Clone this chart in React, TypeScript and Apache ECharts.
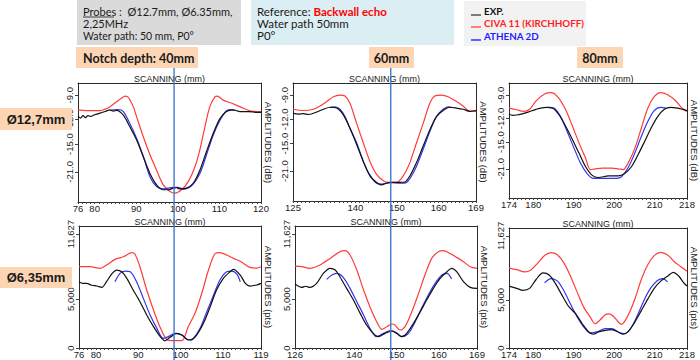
import React, { useEffect, useRef } from 'react';
import * as echarts from 'echarts';

// ---------- tick labels ----------
const X_TICKS_40_127 = [76, 80, 90, 100, 110, 120];
const X_TICKS_60_127 = [125, 140, 150, 160, 169];
const X_TICKS_80_127 = [174, 180, 190, 200, 210, 218];
const X_TICKS_40_635 = [76, 80, 90, 100, 110, 119];
const X_TICKS_60_635 = [126, 140, 150, 160, 169];
const X_TICKS_80_635 = [174, 180, 190, 200, 210, 218];

const DB_TICK_VALUES = [-9, -12, -15, -18.4];
const DB_TICK_LABELS = ['-9.0', '-12.0', '-15.0', '-21.0'];
const PTS_TICK_VALUES = [0, 5000, 11627];
const PTS_TICK_LABELS = ['0', '5,000', '11,627'];

const NOTCH_CENTERS = [99.1, 148.5];

// ---------- Ø12,7mm, notch 40mm (dB) ----------
const EXP_40_127 = [[76, -11.6], [76.6, -11.8], [77.2, -11.5], [77.8, -11.75], [78.4, -11.5], [79, -11.6], [80, -11.4], [81.3, -11.2], [82.5, -11.0], [83.7, -10.8], [84.5, -10.95], [85.3, -10.85], [86.9, -11.45], [88.5, -12.9], [90.1, -14.5], [91.7, -16.55], [93.3, -18.6], [94.9, -20.0], [96.5, -20.6], [97.7, -20.6], [98.9, -20.4], [99.7, -20.35], [100.5, -20.5], [102.1, -20.4], [103.7, -19.8], [105.3, -18.2], [106.9, -15.9], [108.5, -13.7], [110.1, -11.9], [111.7, -11.0], [113.3, -10.8], [115, -11.0], [117, -11.0], [119, -11.1], [120, -11.1]];
const CIVA_40_127 = [[76, -10.8], [78, -10.9], [80, -10.9], [81.3, -10.9], [82.5, -10.7], [83.7, -10.4], [85.3, -9.8], [86.5, -9.35], [87.3, -9.1], [88.0, -9.2], [88.5, -9.6], [89.3, -10.4], [90.1, -11.65], [91.7, -14.1], [93.3, -16.3], [94.9, -18.2], [96.5, -20.0], [98.1, -20.8], [99.3, -21.0], [100.9, -20.6], [102.5, -19.6], [104.1, -17.8], [105.3, -15.7], [106.5, -12.9], [107.7, -10.4], [108.9, -9.2], [109.5, -9.1], [110.9, -9.6], [112.5, -9.9], [114.9, -10.4], [117.3, -10.9], [120, -11.0]];
const ATHENA_40_127 = [[83.7, -10.9], [84.5, -10.8], [85.7, -10.75], [86.9, -11.0], [88.5, -12.5], [90.1, -14.3], [91.7, -16.5], [93.3, -19.0], [94.9, -20.2], [96.5, -20.5], [98.9, -20.3], [100, -20.3], [101.3, -20.5], [103.3, -20.1], [105.3, -18.6], [106.9, -16.3], [108.5, -13.9], [110.1, -12.1], [111.7, -10.9], [112.9, -10.75], [113.5, -10.9]];

// ---------- Ø12,7mm, notch 60mm (dB) ----------
const EXP_60_127 = [[125.1, -11.25], [126.3, -11.35], [127.5, -11.3], [128.7, -11.4], [129.9, -11.25], [132.3, -10.75], [133.9, -10.5], [135.5, -10.6], [137.1, -11.45], [138.7, -13.1], [140.3, -15.1], [141.9, -17.2], [143.5, -19.0], [145.1, -19.8], [146.3, -20.1], [147.5, -19.9], [149.1, -19.8], [150.7, -19.8], [151.9, -19.75], [153.1, -19.0], [154.7, -17.35], [156.3, -15.3], [157.9, -13.3], [159.5, -11.65], [161.1, -10.9], [162.7, -10.5], [164.3, -10.6], [165.9, -10.75], [167.5, -11.0], [169, -10.9]];
const CIVA_60_127 = [[125, -10.75], [127.5, -10.9], [129.9, -10.75], [131.5, -10.35], [133.1, -9.8], [134.7, -9.2], [136.3, -9.0], [137.5, -9.1], [138.7, -10.0], [140.3, -12.5], [141.9, -14.9], [143.5, -17.2], [145.1, -18.8], [146.7, -19.6], [147.9, -19.8], [149.9, -19.8], [151.5, -19.0], [153.1, -17.35], [154.7, -14.9], [156.3, -12.5], [157.9, -10.0], [159.1, -9.1], [160.7, -9.0], [162.3, -9.2], [164.3, -9.8], [165.9, -10.35], [167.5, -11.0], [169, -11.0]];
const ATHENA_60_127 = [[133.9, -10.5], [135.1, -10.45], [136.3, -10.75], [137.5, -11.65], [138.7, -13.1], [140.3, -14.9], [141.9, -17.2], [143.5, -18.9], [145.1, -19.9], [146.3, -20.0], [148.3, -19.8], [150.7, -19.9], [152.3, -19.8], [153.5, -19.0], [154.7, -17.8], [156.3, -15.7], [157.9, -13.5], [159.5, -11.65], [161.1, -10.75], [162.3, -10.45], [163.1, -10.5]];

// ---------- Ø12,7mm, notch 80mm (dB) ----------
const EXP_80_127 = [[174.0, -11.5], [175.0, -11.6], [175.9, -11.56], [177.0, -11.45], [178.3, -11.27], [180.7, -10.84], [183.2, -10.6], [184.8, -10.7], [186.4, -11.56], [188.0, -13.0], [189.7, -14.7], [191.3, -16.4], [192.9, -18.1], [194.5, -19.2], [196.1, -19.5], [198.6, -19.3], [201.0, -19.3], [202.6, -19.0], [204.3, -18.1], [205.9, -16.6], [207.5, -14.95], [209.1, -13.25], [210.7, -11.8], [212.4, -10.84], [214.0, -10.6], [215.6, -10.7], [218, -11.0]];
const CIVA_80_127 = [[174.0, -10.7], [175.9, -10.9], [177.5, -11.1], [179.1, -10.84], [180.7, -9.76], [182.8, -8.9], [184.4, -8.73], [186.0, -9.24], [188.0, -10.9], [189.7, -13.0], [191.3, -15.1], [192.9, -17.0], [194.1, -18.5], [195.3, -18.4], [197.0, -18.3], [199.4, -18.3], [201.0, -18.4], [202.2, -18.5], [203.4, -17.7], [205.1, -15.8], [206.7, -13.25], [208.3, -10.7], [209.9, -9.24], [211.5, -8.73], [213.2, -9.0], [215.2, -9.76], [216.8, -10.7], [218, -11.1]];
const ATHENA_80_127 = [[183.6, -10.6], [185.2, -10.7], [186.8, -11.8], [188.4, -13.7], [190.1, -15.8], [191.7, -17.7], [193.3, -19.0], [194.9, -19.6], [197.8, -19.6], [200.6, -19.6], [201.8, -19.4], [203.4, -18.3], [205.1, -16.4], [206.7, -14.3], [208.3, -12.4], [209.9, -11.0], [211.5, -10.6], [212.8, -10.7]];

// ---------- Ø6,35mm, notch 40mm (pts) ----------
const EXP_40_635 = [[76.0, 6766], [76.9, 6600], [77.8, 6596], [79.0, 6400], [80.2, 6324], [81.4, 6188], [82.5, 6766], [83.7, 7548], [84.9, 7956], [86.1, 7786], [87.3, 7106], [88.8, 5916], [90.4, 4726], [92.0, 3366], [93.6, 2176], [95.1, 1224], [96.3, 748], [97.5, 1088], [99.1, 1496], [100.3, 1326], [101.5, 884], [102.3, 816], [103.8, 1326], [105.4, 2516], [107.0, 4216], [108.5, 5916], [110.1, 7106], [111.7, 7786], [112.5, 8024], [114.1, 7446], [115.3, 6596], [116.4, 6324], [118.0, 6426], [119.0, 6596]];
const CIVA_40_635 = [[76.0, 8296], [78.6, 8296], [81.0, 8126], [82.5, 8466], [84.5, 9044], [86.5, 9316], [88.5, 9724], [89.2, 9588], [90.4, 8296], [92.0, 5916], [93.6, 3876], [95.1, 2176], [96.7, 884], [98.3, 748], [100.3, 748], [101.8, 2176], [103.4, 3536], [105.0, 5576], [106.6, 7956], [108.2, 9656], [109.3, 9724], [110.9, 9486], [112.5, 9150], [114.1, 8850], [116.4, 8228], [118.0, 8150], [119.0, 8296]];
const ATHENA_40_635 = [[84.5, 6766], [85.7, 7616], [86.9, 7854], [88.1, 7786], [89.6, 6766], [91.2, 5066], [92.8, 3366], [94.4, 2006], [95.9, 986], [97.1, 1156], [98.7, 1496], [100.3, 1326], [101.8, 816], [103.0, 986], [104.6, 2006], [106.2, 3706], [107.8, 5406], [109.3, 6936], [110.9, 7786], [112.1, 7854], [113.3, 7548], [114.1, 6766]];

// ---------- Ø6,35mm, notch 60mm (pts) ----------
const EXP_60_635 = [[126.0, 6528], [127.6, 6188], [128.5, 6300], [129.5, 6188], [131.1, 6596], [132.7, 7616], [134.3, 8126], [135.5, 7956], [136.6, 7276], [138.2, 6086], [139.8, 4896], [141.4, 3536], [142.9, 2346], [144.5, 1496], [145.7, 1156], [147.3, 1496], [148.9, 1734], [150.0, 1496], [151.2, 1156], [152.4, 1496], [154.0, 2516], [155.6, 3706], [157.1, 4896], [158.7, 6086], [160.3, 7106], [161.9, 7786], [163.0, 8126], [164.2, 7786], [165.8, 6766], [167.4, 6188], [169, 6086]];
const CIVA_60_635 = [[126.0, 8364], [127.6, 8296], [129.5, 8126], [131.9, 8466], [134.3, 9146], [136.6, 9826], [137.8, 9928], [139.0, 9486], [140.6, 7956], [142.2, 5916], [143.7, 4216], [145.3, 2686], [146.5, 1904], [147.7, 2176], [148.9, 2448], [149.6, 2346], [150.8, 1836], [152.0, 2176], [153.6, 3706], [155.2, 5576], [156.7, 7446], [158.3, 9146], [159.9, 9826], [161.1, 9928], [162.6, 9656], [164.2, 9248], [165.8, 8806], [167.4, 8296], [169, 8126]];
const ATHENA_60_635 = [[133.5, 7004], [134.7, 7446], [135.9, 7616], [137.4, 7208], [139.0, 6086], [140.6, 4726], [142.2, 3366], [143.7, 2006], [145.3, 1156], [146.9, 1496], [148.5, 1768], [150.0, 1564], [151.2, 1156], [152.8, 1496], [154.4, 2686], [155.9, 4046], [157.5, 5406], [159.1, 6596], [160.7, 7446], [161.9, 7616], [163.0, 7038]];

// ---------- Ø6,35mm, notch 80mm (pts) ----------
const EXP_80_635 = [[174.0, 6426], [175.9, 6188], [177.5, 5984], [179.1, 6188], [180.7, 7106], [182.4, 7786], [184.0, 7548], [185.6, 6596], [187.2, 5406], [188.8, 4284], [190.5, 3536], [192.1, 2516], [193.7, 1666], [194.9, 1428], [196.1, 1666], [197.8, 1836], [199.4, 1904], [201.0, 1666], [202.2, 1428], [203.4, 1666], [205.1, 2686], [206.7, 3876], [208.3, 5066], [209.9, 6188], [211.5, 6936], [213.2, 7446], [214.6, 7854], [216.0, 7446], [217.2, 6766], [218, 6426]];
const CIVA_80_635 = [[174.0, 8296], [175.9, 8126], [177.9, 7888], [179.5, 8126], [181.1, 8806], [182.8, 9588], [184.4, 9894], [186.0, 9656], [187.6, 8806], [189.2, 7446], [190.9, 5746], [192.5, 4216], [194.1, 3200], [195.3, 2516], [196.5, 2900], [197.8, 3450], [198.6, 3536], [199.8, 3300], [201.0, 2700], [201.8, 2448], [203.4, 3366], [205.1, 5066], [206.7, 7106], [208.3, 8636], [209.9, 9588], [211.5, 9928], [213.2, 9656], [214.8, 8976], [216.4, 8466], [218, 7956]];
const ATHENA_80_635 = [[182.8, 6766], [184.4, 7208], [186.0, 6936], [187.6, 5916], [189.2, 4556], [190.9, 3196], [192.5, 2176], [194.1, 1564], [195.7, 1666], [197.8, 2006], [199.4, 2006], [201.4, 1564], [202.6, 1496], [204.3, 2176], [205.9, 3536], [207.5, 5066], [209.1, 6256], [210.7, 7004], [212.0, 7208], [213.2, 6868]];

// ---------- layout ----------
const AXIS_FONT = '"Liberation Sans", Arial, sans-serif';
const HEAD_FONT = 'Lato, "Liberation Sans", sans-serif';
const C_EXP = '#111111';
const C_CIVA = '#ff3b3b';
const C_ATHENA = '#3434f0';

const PANELS = [
  { grid: { left: 78, top: 83, width: 183, height: 119 }, x: [76, 120], ticks: X_TICKS_40_127, kind: 'db', data: [EXP_40_127, CIVA_40_127, ATHENA_40_127] },
  { grid: { left: 293, top: 83, width: 183, height: 118 }, x: [125, 169], ticks: X_TICKS_60_127, kind: 'db', data: [EXP_60_127, CIVA_60_127, ATHENA_60_127] },
  { grid: { left: 509, top: 83, width: 181, height: 115 }, x: [174, 218], ticks: X_TICKS_80_127, kind: 'db', data: [EXP_80_127, CIVA_80_127, ATHENA_80_127] },
  { grid: { left: 79, top: 226, width: 182, height: 122 }, x: [76, 119], ticks: X_TICKS_40_635, kind: 'pts', data: [EXP_40_635, CIVA_40_635, ATHENA_40_635] },
  { grid: { left: 295, top: 226, width: 182, height: 122 }, x: [126, 169], ticks: X_TICKS_60_635, kind: 'pts', data: [EXP_60_635, CIVA_60_635, ATHENA_60_635] },
  { grid: { left: 509, top: 228, width: 181, height: 120 }, x: [174, 218], ticks: X_TICKS_80_635, kind: 'pts', data: [EXP_80_635, CIVA_80_635, ATHENA_80_635] },
];

const SERIES_NAMES = ['EXP.', 'CIVA 11 (KIRCHHOFF)', 'ATHENA 2D'];
const SERIES_COLORS = [C_EXP, C_CIVA, C_ATHENA];

function nearestLabel(values: number[], labels: string[], v: number) {
  let best = 0;
  for (let k = 1; k < values.length; k++) {
    if (Math.abs(values[k] - v) < Math.abs(values[best] - v)) best = k;
  }
  return labels[best];
}

function buildOption() {
  const grid: any[] = [];
  const xAxis: any[] = [];
  const yAxis: any[] = [];
  const series: any[] = [];
  const lineCol = '#2a2a2a';
  PANELS.forEach((p, i) => {
    grid.push({ ...p.grid, containLabel: false });
    const isDb = p.kind === 'db';
    const yMin = isDb ? -22.1 : 0;
    const yMax = isDb ? -7.5 : 12450;
    const yVals = isDb ? DB_TICK_VALUES : PTS_TICK_VALUES;
    const yLabs = isDb ? DB_TICK_LABELS : PTS_TICK_LABELS;
    xAxis.push({
      type: 'value', gridIndex: i, position: 'bottom', min: p.x[0], max: p.x[1], interval: 1,
      axisLine: { show: true, onZero: false, lineStyle: { color: lineCol, width: 1 } },
      axisTick: { show: true, length: 2, lineStyle: { color: '#444', width: 1 } },
      axisLabel: {
        customValues: p.ticks, margin: 1, fontSize: 9.5, color: '#222', fontFamily: AXIS_FONT,
        formatter: (v: number) => String(Math.round(v)),
      },
      splitLine: { show: false },
    });
    xAxis.push({
      type: 'value', gridIndex: i, position: 'top', min: p.x[0], max: p.x[1],
      axisLine: { show: true, onZero: false, lineStyle: { color: lineCol, width: 1 } },
      axisTick: { show: false }, axisLabel: { show: false }, splitLine: { show: false },
      name: 'SCANNING (mm)', nameLocation: 'middle', nameGap: 0,
      nameTextStyle: { fontSize: 9, color: '#222', fontFamily: AXIS_FONT, verticalAlign: 'bottom' },
    });
    yAxis.push({
      type: 'value', gridIndex: i, position: 'left', min: yMin, max: yMax,
      axisLine: { show: true, onZero: false, lineStyle: { color: lineCol, width: 1 } },
      axisTick: { show: true, customValues: yVals, length: 3, lineStyle: { color: '#444' } },
      axisLabel: {
        customValues: yVals, rotate: 90, margin: 4, fontSize: 9.5, color: '#222', fontFamily: AXIS_FONT,
        formatter: (v: number) => nearestLabel(yVals, yLabs, v),
      },
      splitLine: { show: false },
    });
    yAxis.push({
      type: 'value', gridIndex: i, position: 'right', min: yMin, max: yMax,
      axisLine: { show: true, onZero: false, lineStyle: { color: lineCol, width: 1 } },
      axisTick: { show: false }, axisLabel: { show: false }, splitLine: { show: false },
      name: isDb ? 'AMPLITUDES (dB)' : 'AMPLITUDES (pts)', nameLocation: 'middle', nameGap: 2, nameRotate: -90,
      nameTextStyle: { fontSize: 9.5, color: '#222', fontFamily: AXIS_FONT },
    });
    p.data.forEach((d, k) => {
      series.push({
        type: 'line', name: SERIES_NAMES[k], xAxisIndex: i * 2, yAxisIndex: i * 2,
        data: d, showSymbol: false, smooth: 0.3, clip: true,
        lineStyle: { color: SERIES_COLORS[k], width: 1.2 }, itemStyle: { color: SERIES_COLORS[k] },
        z: k === 0 ? 3 : 2,
      });
    });
  });
  return { animation: false, backgroundColor: '#ffffff', grid, xAxis, yAxis, series };
}

function txt(x: number, y: number, text: string, opts: any = {}) {
  return {
    type: 'text', x, y, z: 110,
    style: {
      text, fill: opts.fill || '#1a1a1a', fontSize: opts.size || 11, fontWeight: opts.weight || 'normal',
      fontFamily: opts.family || HEAD_FONT, align: opts.align || 'left', verticalAlign: 'middle',
    },
  };
}

function rect(x: number, y: number, w: number, h: number, fill: string) {
  return { type: 'rect', z: 100, shape: { x, y, width: w, height: h }, style: { fill } };
}

function buildGraphics(notchX: number[]) {
  const g: any[] = [];
  // notch centre lines
  notchX.forEach((x) => {
    g.push({ type: 'line', z: 90, shape: { x1: x, y1: 68, x2: x, y2: 360 }, style: { stroke: '#3d7cc6', lineWidth: 1.4 } });
  });
  // probes box
  g.push(rect(77, 0, 164, 45, '#dadada'));
  g.push(txt(83, 11, 'Probes :  Ø12.7mm, Ø6.35mm,', { size: 11 }));
  g.push({ type: 'line', z: 111, shape: { x1: 83, y1: 17, x2: 114, y2: 17 }, style: { stroke: '#1a1a1a', lineWidth: 0.8 } });
  g.push(txt(83, 23, '2,25MHz', { size: 11 }));
  g.push(txt(83, 36, 'Water path: 50 mm, P0°', { size: 10.5 }));
  // reference box
  g.push(rect(251, 0, 203, 45, '#daeef3'));
  g.push({
    type: 'text', x: 257, y: 11, z: 110,
    style: {
      text: '{a|Reference: }{b|Backwall echo}', verticalAlign: 'middle',
      rich: {
        a: { fontSize: 11.5, fontFamily: HEAD_FONT, fill: '#1a1a1a' },
        b: { fontSize: 11.5, fontFamily: HEAD_FONT, fill: '#ff0000', fontWeight: 'bold' },
      },
    },
  });
  g.push(txt(257, 23, 'Water path 50mm', { size: 11.5 }));
  g.push(txt(257, 35, 'P0°', { size: 11.5 }));
  // legend box
  g.push(rect(464, 1, 122, 45, '#f2f2f2'));
  const legY = [11, 23, 36];
  const legFill = ['#111111', '#ff1f1f', '#1f1fff'];
  const legLine = ['#555555', '#ff5a5a', '#3030ff'];
  SERIES_NAMES.forEach((n, k) => {
    g.push({ type: 'line', z: 111, shape: { x1: 471, y1: legY[k] + 4, x2: 481, y2: legY[k] + 4 }, style: { stroke: legLine[k], lineWidth: 1.5 } });
    g.push(txt(484, legY[k], n, { size: 9.8, weight: 'bold', fill: legFill[k] }));
  });
  // notch depth boxes
  g.push(rect(76, 47, 122, 21, '#fcd5b5'));
  g.push(txt(83, 58, 'Notch depth:', { size: 12.5, weight: 'bold' }));
  g.push(txt(159, 58, '40mm', { size: 12.5, weight: 'bold' }));
  g.push(rect(369, 47, 45, 21, '#fcd5b5'));
  g.push(txt(391.5, 58, '60mm', { size: 12.5, weight: 'bold', align: 'center' }));
  g.push(rect(577, 47, 46, 21, '#fcd5b5'));
  g.push(txt(600, 58, '80mm', { size: 12.5, weight: 'bold', align: 'center' }));
  // probe labels
  g.push(rect(0, 108, 72, 22, '#fcd5b5'));
  g.push(txt(36, 119, 'Ø12,7mm', { size: 13, weight: 'bold', align: 'center', family: AXIS_FONT }));
  g.push(rect(0, 267, 72, 21, '#fcd5b5'));
  g.push(txt(36, 277.5, 'Ø6,35mm', { size: 13, weight: 'bold', align: 'center', family: AXIS_FONT }));
  return g;
}

export default function App() {
  const ref = useRef<HTMLDivElement>(null);
  useEffect(() => {
    if (!ref.current) return;
    const chart = echarts.init(ref.current, null, { renderer: 'svg' });
    chart.setOption(buildOption() as any);
    const notchX = NOTCH_CENTERS.map((v, k) => chart.convertToPixel({ xAxisIndex: k * 2 } as any, v) as number);
    chart.setOption({ graphic: buildGraphics(notchX) } as any);
    return () => chart.dispose();
  }, []);
  return <div ref={ref} style={{ position: 'fixed', left: 0, top: 0, width: 700, height: 360, background: '#fff' }} />;
}
